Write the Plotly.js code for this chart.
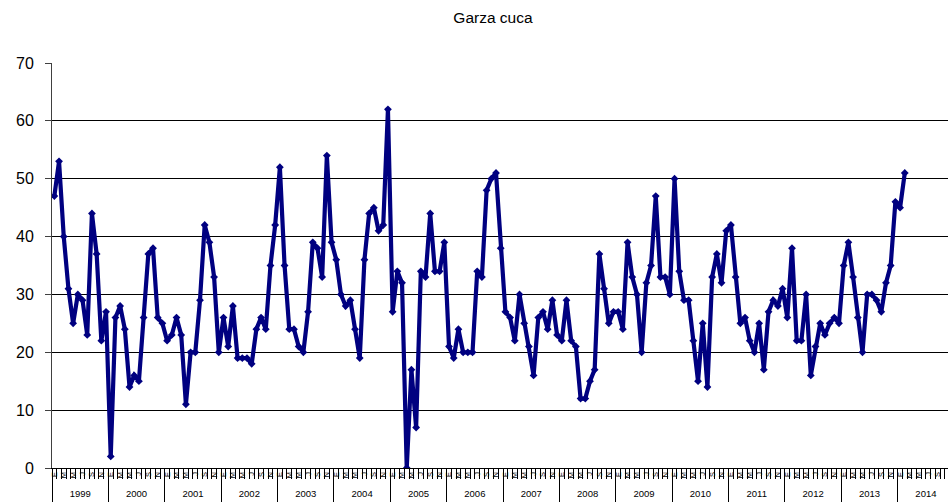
<!DOCTYPE html>
<html><head><meta charset="utf-8">
<script src="https://cdn.plot.ly/plotly-3.0.1.min.js"></script>
<style>html,body{margin:0;padding:0;background:#fff;} #chart{width:948px;height:502px;}</style>
</head><body><div id="chart"></div>
<script>
const chartTitle = 'Garza cuca';
const years = [1999,2000,2001,2002,2003,2004,2005,2006,2007,2008,2009,2010,2011,2012,2013,2014];
const monthLetters = ['E','F','M','A','M','J','J','A','S','O','N','D'];
const labeledMonths = [0,2,4,6,8,10];
const yTicks = [0,10,20,30,40,50,60,70];
const values = [
  47,53,40,31,25,30,29,23,44,37,22,27,
  2,26,28,24,14,16,15,26,37,38,26,25,
  22,23,26,23,11,20,20,29,42,39,33,20,
  26,21,28,19,19,19,18,24,26,24,35,42,
  52,35,24,24,21,20,27,39,38,33,54,39,
  36,30,28,29,24,19,36,44,45,41,42,62,
  27,34,32,0,17,7,34,33,44,34,34,39,
  21,19,24,20,20,20,34,33,48,50,51,38,
  27,26,22,30,25,21,16,26,27,24,29,23,
  22,29,22,21,12,12,15,17,37,31,25,27,
  27,24,39,33,30,20,32,35,47,33,33,30,
  50,34,29,29,22,15,25,14,33,37,32,41,
  42,33,25,26,22,20,25,17,27,29,28,31,
  26,38,22,22,30,16,21,25,23,25,26,25,
  35,39,33,26,20,30,30,29,27,32,35,46,
  45,51
];

const xIdx = values.map((v, i) => i);
const monthTickVals = [], monthTickText = [];
years.forEach((yr, yi) => {
  labeledMonths.forEach(m => { monthTickVals.push(yi * 12 + m); monthTickText.push(monthLetters[m]); });
});
const yearTickVals = years.map((yr, yi) => yi * 12 + 5.5);
const yearTickText = years.map(String);
const xRange = [-0.5, 190.2];
const font = 'Liberation Sans, Arial, sans-serif';

const trace = {
  x: xIdx, y: values, type: 'scatter', mode: 'lines+markers',
  line: {color: '#000080', width: 4.2},
  marker: {symbol: 'diamond', size: 6, color: '#000080'},
  hoverinfo: 'skip', showlegend: false
};
// empty helper trace so the year axis (x2) is registered and drawn
const yearAxisHelper = {
  x: yearTickVals, y: yearTickVals.map(() => null), xaxis: 'x2', yaxis: 'y',
  type: 'scatter', mode: 'lines', hoverinfo: 'skip', showlegend: false,
  line: {width: 0}
};

const layout = {
  width: 948, height: 502,
  margin: {l: 52, r: 0, t: 63, b: 0, pad: 0},
  paper_bgcolor: '#fff', plot_bgcolor: '#fff',
  showlegend: false,
  title: {text: chartTitle, x: (493 - 52) / 896, xref: 'paper', xanchor: 'center',
          y: 1 - 18 / 502, yref: 'container', yanchor: 'middle',
          font: {family: font, size: 15.5, color: '#000'}},
  xaxis: {
    type: 'linear', range: xRange, fixedrange: true,
    tickmode: 'array', tickvals: monthTickVals, ticktext: monthTickText,
    tickangle: -90, tickfont: {family: font, size: 7.5, color: '#000'},
    ticks: '', showline: true, linecolor: '#000', linewidth: 1,
    showgrid: false, zeroline: false, automargin: false,
    minor: {ticks: 'outside', ticklen: 10, tickmode: 'linear', tick0: -0.5, dtick: 1,
            tickcolor: '#000', tickwidth: 1, showgrid: false}
  },
  xaxis2: {
    type: 'linear', range: xRange, overlaying: 'x', anchor: 'free', position: 0, side: 'bottom',
    fixedrange: true,
    tickmode: 'array', tickvals: yearTickVals, ticktext: yearTickText,
    ticklabelposition: 'inside', ticks: '', tickfont: {family: font, size: 9.5, color: '#000'},
    showline: false, showgrid: false, zeroline: false, automargin: false,
    minor: {ticks: 'inside', ticklen: 34, tickmode: 'linear', tick0: -0.5, dtick: 12,
            tickcolor: '#000', tickwidth: 1, showgrid: false}
  },
  yaxis: {
    range: [0, 70], domain: [(502 - 468) / 439, 1], fixedrange: true,
    tickmode: 'array', tickvals: yTicks,
    tickfont: {family: font, size: 16, color: '#000'},
    ticks: 'outside', ticklen: 6, tickcolor: '#404040', ticklabelstandoff: 8,
    showline: true, linecolor: '#404040', linewidth: 1,
    showgrid: true, gridcolor: '#000', gridwidth: 1, zeroline: false, automargin: false
  }
};

Plotly.newPlot('chart', [trace, yearAxisHelper], layout, {staticPlot: true, displayModeBar: false});
</script></body></html>
